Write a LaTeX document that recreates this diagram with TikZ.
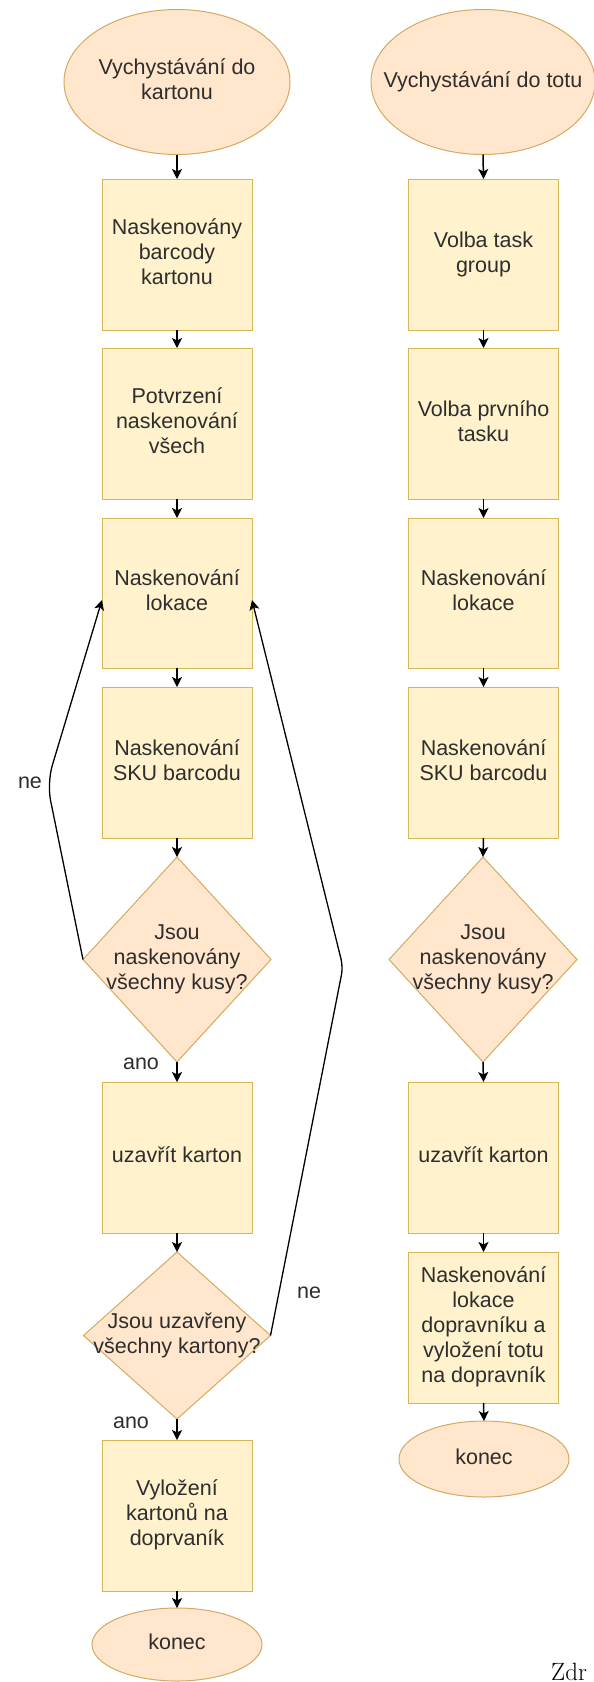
\documentclass[tikz,border=0pt]{standalone}
\usepackage{fontspec}
\usetikzlibrary{shapes.geometric,arrows.meta}
\newfontfamily\flowfont{Liberation Sans}
\definecolor{boxfill}{HTML}{FFF2CC}
\definecolor{boxline}{HTML}{D6B656}
\definecolor{peachfill}{HTML}{FFE6CC}
\definecolor{peachline}{HTML}{D4AA62}
\definecolor{inktext}{HTML}{2E2E2E}
% centred multi-line text of zero width, so the node size comes from the minimum sizes
\newcommand{\flowtext}[1]{\makebox[0pt]{\begin{tabular}{@{}c@{}}#1\end{tabular}}}
\tikzset{
  base/.style={inner sep=0pt, outer sep=0pt, line width=1pt, text=inktext,
    font=\flowfont\fontsize{21.5}{25}\selectfont},
  stepbox/.style={base, rectangle, draw=boxline, fill=boxfill,
    minimum width=150pt, minimum height=151pt},
  terminal/.style={base, ellipse, draw=peachline, fill=peachfill},
  decision/.style={base, diamond, draw=peachline, fill=peachfill, aspect=1},
  flow/.style={line width=1.5pt, -{Stealth[length=10pt,width=10pt,inset=2.5pt]}},
  loopline/.style={flow, line width=1.3pt},
  tag/.style={inner sep=0pt, text=inktext, font=\flowfont\fontsize{21.5}{25}\selectfont}
}
\begin{document}
\begin{tikzpicture}[x=1pt, y=-1pt]
\useasboundingbox (0,0) rectangle (594,1682);
\fill[white] (0,0) rectangle (594,1682);

% left column: picking into cartons
\node[terminal, minimum width=226pt, minimum height=145pt] (s1) at (177,82)
  {\flowtext{Vychystávání do\\kartonu}};
\node[stepbox] (b1) at (177,254.5) {\flowtext{Naskenovány\\barcody\\kartonu}};
\node[stepbox] (b2) at (177,423.5) {\flowtext{Potvrzení\\naskenování\\všech}};
\node[stepbox, minimum height=150pt] (b3) at (177,593) {\flowtext{Naskenování\\lokace}};
\node[stepbox] (b4) at (177,762.5) {\flowtext{Naskenování\\SKU barcodu}};
\node[decision, minimum width=188pt, minimum height=205pt] (d1) at (177,959.5)
  {\flowtext{Jsou\\naskenovány\\všechny kusy?}};
\node[stepbox] (b5) at (177,1157.5) {\flowtext{uzavřít karton}};
\node[decision, minimum width=187pt, minimum height=167pt] (d2) at (177,1335.5)
  {\flowtext{Jsou uzavřeny\\všechny kartony?}};
\node[stepbox] (b6) at (177,1515.5) {\flowtext{Vyložení\\kartonů na\\doprvaník}};
\node[terminal, minimum width=170pt, minimum height=73pt] (e1) at (177,1644.5)
  {\flowtext{konec}};

% right column: picking into totes
\node[terminal, minimum width=224pt, minimum height=145pt] (s2) at (483,82)
  {\flowtext{Vychystávání do totu}};
\node[stepbox] (r1) at (483.5,254.5) {\flowtext{Volba task\\group}};
\node[stepbox] (r2) at (483.5,423.5) {\flowtext{Volba prvního\\tasku}};
\node[stepbox, minimum height=150pt] (r3) at (483.5,593) {\flowtext{Naskenování\\lokace}};
\node[stepbox] (r4) at (483.5,762.5) {\flowtext{Naskenování\\SKU barcodu}};
\node[decision, minimum width=188pt, minimum height=205pt] (rd) at (483,959.5)
  {\flowtext{Jsou\\naskenovány\\všechny kusy?}};
\node[stepbox] (r5) at (483.5,1157.5) {\flowtext{uzavřít karton}};
\node[stepbox] (r6) at (483.5,1327.5)
  {\flowtext{Naskenování\\lokace\\dopravníku a\\vyložení totu\\na dopravník}};
\node[terminal, minimum width=170pt, minimum height=76pt] (e2) at (484,1459)
  {\flowtext{konec}};

% straight flow
\foreach \a/\b in {s1/b1, b1/b2, b2/b3, b3/b4, b4/d1, d1/b5, b5/d2, d2/b6, b6/e1,
                   s2/r1, r1/r2, r2/r3, r3/r4, r4/rd, rd/r5, r5/r6, r6/e2}
  \draw[flow] (\a.south) -- (\b.north);

% loops back to scanning the location
\coordinate (kl) at (47,783);
\coordinate (kr) at (343,967);
\draw[loopline, rounded corners=18pt] (d1.west) -- (kl) -- ([yshift=-7pt]b3.west);
\draw[loopline, rounded corners=8pt] (d2.east) -- (kr) -- ([yshift=-7pt]b3.east);

% branch labels
\node[tag] (ne1) at (30,783) {ne};
\node[tag] (ne2) at (309,1293) {ne};
\node[tag] (ano1) at (141,1064) {ano};
\node[tag] (ano2) at (131,1423) {ano};

\node[anchor=base west, inner sep=0pt, font=\fontsize{25}{29}\selectfont] (src) at (551,1680) {Zdr};
\end{tikzpicture}
\end{document}
